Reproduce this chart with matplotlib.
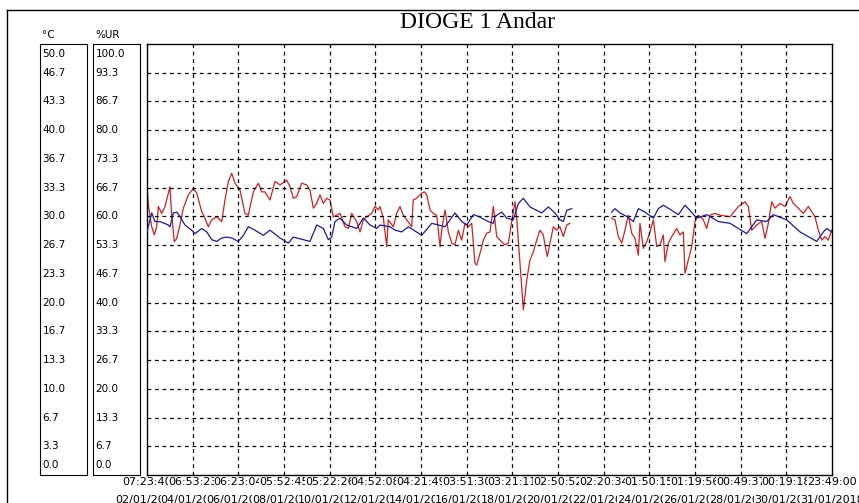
import numpy as np
import matplotlib
matplotlib.use("Agg")
import matplotlib.pyplot as plt
from matplotlib.lines import Line2D

# Temperature (blue, deg C) - hours since 02/01/2018 07:23:40
temp_hours = [0, 4.9, 8.3, 13.5, 22.2, 23.9, 27.4, 30.9, 34.3, 39.5, 46.5, 49.9, 56.9, 62.1,
              67.3, 72.5, 77.7, 82.9, 88.1, 95.0, 100.2, 105.4, 112.3, 121.0, 127.9, 138.3,
              147.0, 152.2, 162.6, 169.5, 176.5, 183.4, 188.6, 192.1, 195.5, 200.7, 207.7,
              218.1, 225.0, 231.9, 238.9, 242.3, 252.7, 257.9, 264.9, 271.8, 285.7, 296.1,
              309.9, 320.3, 327.3, 332.5, 339.4, 344.6, 355.0, 360.2, 361.9, 368.9, 374.1,
              380.9, 386.2, 391.4, 398.3, 405.3, 410.5, 417.4, 424.3, 429.5, 433.0, 436.5,
              441.7,
              483.3, 486.7, 491.9, 498.9, 505.8, 511.0, 517.9, 526.6, 531.8, 537.0, 545.7,
              552.6, 559.5, 564.7, 571.7, 582.1, 594.2, 606.3, 623.7, 634.1, 644.5, 651.4,
              665.3, 679.1, 696.5, 703.4, 706.9, 712.1]
temp_vals = [28.2, 30.4, 29.4, 29.4, 29.0, 28.8, 30.4, 30.5, 30.0, 29.0, 28.4, 28.0, 28.6, 28.2,
             27.3, 27.1, 27.5, 27.6, 27.5, 27.1, 27.8, 28.8, 28.4, 27.8, 28.4, 27.5,
             26.9, 27.6, 27.3, 27.1, 29.0, 28.6, 27.3, 27.6, 29.4, 29.8, 29.0,
             28.6, 29.8, 29.0, 28.6, 29.0, 28.8, 28.4, 28.2, 28.8, 27.8, 29.2,
             28.8, 30.4, 29.4, 29.0, 30.2, 30.0, 29.4, 29.2, 30.0, 30.5, 29.8,
             29.6, 31.5, 32.1, 31.1, 30.7, 30.4, 31.1, 30.4, 29.6, 29.4, 30.7,
             30.9,
             30.5, 30.9, 30.4, 30.0, 29.4, 30.9, 30.5, 29.8, 30.9, 31.3, 30.7,
             30.2, 31.3, 30.7, 29.8, 30.2, 29.4, 29.2, 28.0, 29.6, 29.4, 30.2,
             29.6, 28.2, 27.1, 28.2, 28.6, 28.2]

# Relative humidity (red, %UR)
rh_hours = [0, 1.4, 4.9, 7.6, 10.1, 11.8, 15.3, 18.7, 22.2, 23.9, 25.7, 28.4, 30.9, 34.3, 37.8,
            43.0, 48.2, 51.7, 56.9, 60.3, 63.8, 67.3, 72.5, 77.7, 81.1, 84.6, 88.1, 91.5,
            96.7, 101.9, 105.4, 110.6, 115.8, 119.3, 122.7, 127.9, 133.1, 138.3, 145.3,
            148.7, 152.2, 155.7, 160.9, 166.1, 169.5, 173.0, 176.5, 179.9, 183.4, 186.9,
            190.3, 193.8, 200.7, 205.9, 209.4, 212.9, 218.1, 221.5, 225.0, 228.5, 233.7,
            237.1, 240.6, 242.3, 245.8, 249.3, 250.9, 256.2, 259.7, 263.1, 266.6, 270.1,
            275.3, 276.9, 280.4, 285.7, 288.4, 290.9, 294.3, 297.8, 301.3, 304.7, 306.5,
            309.9, 313.4, 316.9, 320.3, 323.8, 327.3, 330.7, 334.2, 337.7, 341.1, 342.9,
            346.3, 349.8, 353.3, 356.7, 360.2, 363.7, 367.1, 372.3, 375.8, 379.3, 382.7,
            384.5, 387.9, 391.4, 394.9, 398.3, 401.8, 405.3, 408.7, 412.2, 413.9, 416.3,
            419.1, 422.6, 426.0, 429.5, 433.0, 436.5, 439.9,
            483.3, 486.7, 490.2, 493.7, 497.1, 500.6, 504.1, 507.5, 511.0, 512.7, 516.2,
            519.7, 523.1, 526.6, 530.1, 533.5, 537.0, 538.7, 542.2, 545.7, 550.9, 554.3,
            557.8, 559.5, 563.0, 566.5, 569.9, 573.4, 578.6, 582.1, 585.5, 590.7, 595.9,
            606.3, 615.0, 621.9, 625.4, 628.9, 634.1, 639.3, 642.7, 646.2, 649.7, 653.1,
            658.3, 663.5, 668.7, 672.2, 677.4, 682.6, 687.8, 694.7, 698.2, 701.7, 705.1,
            708.6, 712.1]
rh_vals = [66.9, 62.6, 57.6, 55.7, 57.6, 62.3, 60.7, 62.3, 65.4, 66.9, 60.3, 54.1, 54.9, 58.0, 61.9,
           65.0, 66.5, 65.4, 61.1, 59.6, 57.6, 59.2, 59.9, 58.8, 63.8, 68.1, 70.0, 67.7,
           66.1, 60.7, 60.3, 65.7, 67.7, 65.7, 65.7, 63.8, 68.1, 67.3, 68.4,
           66.9, 64.2, 64.6, 67.7, 67.3, 66.1, 61.9, 63.0, 65.0, 63.0, 64.2,
           63.8, 59.9, 60.7, 57.6, 57.2, 60.7, 58.8, 56.4, 59.2, 59.9, 60.7,
           62.3, 61.5, 62.3, 59.6, 53.0, 59.2, 57.6, 60.7, 62.3, 60.3, 59.2,
           57.6, 63.8, 64.2, 65.4, 65.7, 65.0, 61.5, 60.7, 60.3, 53.0, 56.8,
           61.5, 56.4, 53.8, 53.4, 56.8, 54.5, 58.4, 57.6, 58.4, 49.1, 48.7,
           51.4, 54.5, 56.1, 56.4, 62.3, 55.3, 54.5, 53.4, 53.8, 58.8, 63.4,
           59.6, 49.1, 38.3, 45.2, 49.9, 51.8, 54.5, 56.8, 55.7, 53.4, 50.7,
           53.8, 57.6, 56.8, 57.6, 55.3, 58.0, 58.4,
           59.6, 59.2, 55.3, 53.8, 56.8, 60.3, 56.1, 54.9, 51.0, 58.4, 52.6,
           54.1, 56.4, 59.2, 53.0, 53.4, 55.7, 49.5, 53.8, 55.3, 57.2, 55.7,
           56.4, 46.8, 49.9, 53.0, 58.8, 60.3, 59.2, 57.2, 60.3, 60.7, 60.3,
           59.9, 62.3, 63.4, 62.3, 56.8, 58.0, 58.8, 54.9, 58.4, 63.4, 61.9,
           63.0, 62.3, 64.6, 63.0, 61.9, 60.7, 62.3, 59.9, 56.8, 54.5, 55.3,
           54.5, 56.8]

time_labels = ["07:23:40", "06:53:23", "06:23:04", "05:52:45", "05:22:26", "04:52:08",
               "04:21:49", "03:51:30", "03:21:11", "02:50:52", "02:20:34", "01:50:15",
               "01:19:56", "00:49:37", "00:19:18", "23:49:00"]
date_labels = ["02/01/2018", "04/01/2018", "06/01/2018", "08/01/2018", "10/01/2018",
               "12/01/2018", "14/01/2018", "16/01/2018", "18/01/2018", "20/01/2018",
               "22/01/2018", "24/01/2018", "26/01/2018", "28/01/2018", "30/01/2018",
               "31/01/2018"]
temp_ticks = ["50.0", "46.7", "43.3", "40.0", "36.7", "33.3", "30.0", "26.7", "23.3",
              "20.0", "16.7", "13.3", "10.0", "6.7", "3.3", "0.0"]
rh_ticks = ["100.0", "93.3", "86.7", "80.0", "73.3", "66.7", "60.0", "53.3", "46.7",
            "40.0", "33.3", "26.7", "20.0", "13.3", "6.7", "0.0"]
total_hours = 712.4


def with_gaps(x, y, limit=20):
    # break the line where the logger stopped recording
    x = np.asarray(x, float)
    y = np.asarray(y, float)
    cut = np.where(np.diff(x) > limit)[0] + 1
    return np.insert(x, cut, np.nan), np.insert(y, cut, np.nan)


W, H = 859, 503
fig = plt.figure(figsize=(W / 100, H / 100), dpi=100)
plt.rcParams['font.family'] = 'DejaVu Sans'

top, bottom = 44, 475
fy = lambda p: 1 - p / H
ax = fig.add_axes([147 / W, fy(bottom), 685 / W, (bottom - top) / H])
ax.set_xlim(0, total_hours)
ax.set_ylim(0, 50)
xt = np.linspace(0, total_hours, 16)
yt = np.linspace(0, 50, 16)
grid = dict(color='black', lw=0.9, ls=(0, (3, 3)), zorder=1)
for v in xt[1:-1]:
    ax.axvline(v, **grid)
for v in yt[1:-1]:
    ax.axhline(v, **grid)
ax.set_xticks([])
ax.set_yticks([])
for s in ax.spines.values():
    s.set_linewidth(1)

tx, ty = with_gaps(temp_hours, temp_vals)
ax.plot(tx, ty, color='#1c1c8e', lw=0.9, zorder=3)
ax2 = ax.twinx()
ax2.set_ylim(0, 100)
ax2.axis('off')
rx, ry = with_gaps(rh_hours, rh_vals)
ax2.plot(rx, ry, color='#cc2222', lw=0.9, zorder=2)
ax.set_zorder(ax2.get_zorder() + 1)
ax.patch.set_visible(False)

# bottom labels, each one drawn over the tail of the previous one
for i, (t, d) in enumerate(zip(time_labels, date_labels)):
    box = dict(facecolor='white', edgecolor='none', pad=0)
    ax.text(xt[i], -0.0165, t, transform=ax.get_xaxis_transform(), ha='center',
            va='center', fontsize=8, clip_on=False, bbox=box, zorder=10 + i)
    ax.text(xt[i], -0.058, d, transform=ax.get_xaxis_transform(), ha='center',
            va='center', fontsize=8, clip_on=False, bbox=box, zorder=10 + i)

# left scale boxes
for left, labels in [(40, temp_ticks), (93, rh_ticks)]:
    bx = fig.add_axes([left / W, fy(bottom), 47 / W, (bottom - top) / H])
    bx.set_xlim(0, 1)
    bx.set_ylim(0, 50)
    bx.set_xticks([])
    bx.set_yticks([])
    for v, lab in zip(yt[::-1], labels):
        va = 'top' if v == 50 else ('bottom' if v == 0 else 'center')
        off = -0.6 if v == 50 else (0.6 if v == 0 else 0)
        bx.text(0.05, v + off, lab, fontsize=7.5, ha='left', va=va)

fig.text(42 / W, fy(35), "°C", fontsize=7.5, ha='left', va='center')
fig.text(95 / W, fy(35), "%UR", fontsize=7.5, ha='left', va='center')
fig.text(478 / W, fy(22), "DIOGE 1 Andar", fontsize=17, family='Liberation Serif',
         ha='center', va='center')

# outer frame
fig.add_artist(Line2D([7 / W, 1], [fy(10), fy(10)], color='black', lw=1))
fig.add_artist(Line2D([7 / W, 7 / W], [fy(10), 0], color='black', lw=1))

fig.savefig("out.png", dpi=100)
